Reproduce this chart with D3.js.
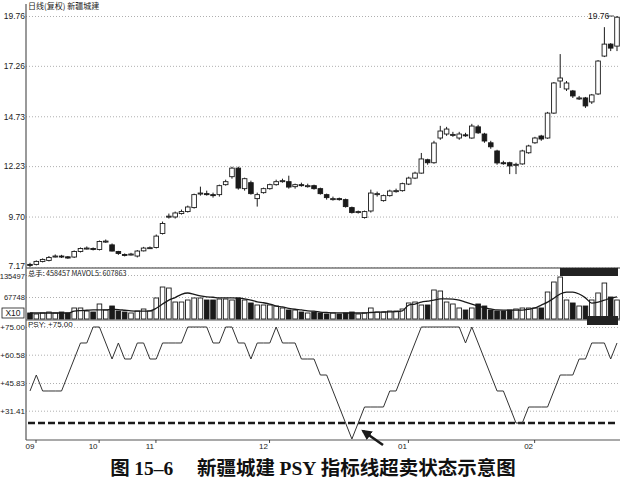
<!DOCTYPE html>
<html><head><meta charset="utf-8">
<script src="https://cdn.jsdelivr.net/npm/d3@7"></script>
<style>body{margin:0;background:#fff}svg{display:block}</style>
</head><body><svg id="c" width="620" height="483"></svg>
<script>
const opens  = [7.30,7.30,7.45,7.50,7.70,7.72,7.68,7.67,7.95,8.10,8.10,8.05,8.45,8.28,7.95,7.80,7.80,7.72,7.98,8.12,8.15,8.85,9.70,9.68,9.85,9.95,10.15,10.85,10.85,10.80,10.80,11.30,11.70,12.13,11.10,11.40,10.60,10.90,11.10,11.30,11.45,11.45,11.20,11.30,11.25,11.25,11.10,10.80,10.60,10.60,10.55,10.15,9.90,9.65,9.98,10.80,10.50,10.75,11.00,11.00,11.33,11.63,11.88,12.55,12.40,13.64,13.84,13.80,13.64,13.80,13.64,14.20,13.84,13.40,12.99,12.40,12.40,12.30,12.34,12.90,13.40,13.74,13.64,14.89,16.50,16.10,16.00,15.65,15.65,15.45,15.85,17.75,18.35,18.25];
const highs  = [7.38,7.50,7.60,7.72,7.80,7.78,7.72,8.00,8.15,8.20,8.15,8.50,8.55,8.35,7.98,7.85,7.88,8.02,8.18,8.20,8.80,9.45,9.85,9.95,10.05,10.25,10.85,11.20,11.00,10.90,11.30,11.55,12.20,12.20,11.65,11.50,10.90,11.15,11.35,11.55,11.60,11.75,11.35,11.40,11.35,11.30,11.15,10.85,10.70,10.65,10.60,10.20,10.00,10.00,11.05,10.95,10.80,11.05,11.10,11.40,11.70,11.95,12.89,12.60,13.50,14.25,14.20,13.95,13.95,13.90,14.35,14.30,13.90,13.50,13.05,12.50,12.45,12.40,13.05,13.30,13.70,13.80,14.95,16.45,17.85,16.50,16.05,15.75,15.70,15.85,17.55,19.20,18.40,19.76];
const lows   = [7.17,7.25,7.40,7.45,7.65,7.62,7.58,7.62,7.90,8.05,8.00,8.00,8.38,7.95,7.78,7.70,7.75,7.65,7.95,8.08,8.10,8.80,9.60,9.60,9.80,9.90,10.10,10.75,10.75,10.65,10.70,11.25,11.60,11.05,11.00,10.80,10.20,10.85,11.05,11.25,11.40,11.10,11.10,11.20,11.15,11.05,10.80,10.55,10.50,10.50,10.15,9.85,9.85,9.60,9.90,10.70,10.45,10.70,10.90,10.95,11.28,11.58,11.85,12.30,12.35,13.55,13.75,13.70,13.55,13.70,13.60,13.85,13.40,13.10,12.30,12.30,11.83,11.83,12.30,12.85,13.35,13.50,13.60,14.85,16.15,16.00,15.65,15.55,15.15,15.35,15.80,17.70,18.00,18.00];
const closes = [7.25,7.45,7.55,7.65,7.72,7.70,7.62,7.95,8.10,8.12,8.05,8.45,8.47,7.97,7.85,7.78,7.82,7.97,8.12,8.14,8.72,9.35,9.72,9.88,9.95,10.18,10.80,10.88,10.82,10.75,11.25,11.45,12.13,11.13,11.60,10.85,10.80,11.10,11.30,11.45,11.50,11.18,11.30,11.28,11.25,11.10,10.85,10.65,10.60,10.58,10.20,9.90,9.95,9.95,10.88,10.85,10.75,10.98,11.00,11.35,11.63,11.88,12.59,12.40,13.39,13.99,14.09,13.82,13.84,13.78,14.24,13.90,13.49,13.20,12.39,12.38,12.24,12.32,12.99,13.24,13.64,13.59,14.89,16.40,16.65,16.40,15.75,15.65,15.25,15.80,17.50,18.35,18.15,19.70];
const volumes = [18500,15400,18500,21500,18500,21500,18500,33900,33900,24600,21500,46200,27700,40000,24600,21500,18500,24600,30800,24600,64700,98500,95400,52300,52300,58500,64700,64700,58500,58500,61600,61600,58500,64700,58500,49300,43100,43100,43100,40000,33900,27700,27700,21500,18500,21500,18500,15400,18500,15400,18500,21500,15400,18500,33900,21500,21500,24600,24600,30800,49300,52300,43100,43100,89300,86200,52300,46200,33900,27700,33900,46200,40000,27700,24600,24600,27700,30800,33900,33900,33900,33900,83100,113900,129300,58500,49300,40000,40000,58500,80100,110800,67700,58500];
const mavol5 = [18500,18500,18500,18500,18500,18500,18500,24000,26000,27000,28000,28000,28000,30000,29000,27000,25000,24000,24000,25000,33000,46000,58000,66000,76000,80000,76000,71000,68000,67000,65000,65000,65000,64000,62000,58000,53000,50000,46000,40000,37000,33000,30000,28000,25000,24000,21000,20000,19000,19000,18500,18500,18500,18500,20000,21000,21500,22000,22500,25000,43000,46000,52000,55000,58000,62000,62000,61000,58000,52000,46000,40000,34000,31000,28000,27500,27500,27500,27500,30000,34000,43000,52000,64000,77000,83000,83000,77000,65000,49000,52000,58000,64000,68000];
const psy = [41.67,50,41.67,41.67,41.67,41.67,50,58.33,66.67,66.67,75,75,66.67,58.33,66.67,58.33,58.33,66.67,66.67,58.33,58.33,66.67,66.67,66.67,66.67,75,75,75,75,66.67,66.67,75,75,66.67,66.67,58.33,66.67,66.67,66.67,75,66.67,66.67,66.67,58.33,58.33,58.33,50,50,41.67,33.33,25,16.67,25,33.33,33.33,33.33,33.33,41.67,41.67,50,58.33,66.67,75,75,75,75,75,75,75,66.67,75,66.67,58.33,50,41.67,41.67,33.33,25,25,33.33,33.33,33.33,33.33,41.67,50,50,50,58.33,58.33,66.67,66.67,66.67,58.33,66.67];
const priceTicks = [7.17,9.70,12.23,14.73,17.26,19.76];
const volTicks = [67748,135497];
const psyTicks = [31.41,45.83,60.58,75.00];
const psyLevel = 25;
const monthTicks = [{i:0,label:"09"},{i:10,label:"10"},{i:19,label:"11"},{i:37,label:"12"},{i:59,label:"01"},{i:79,label:"02"}];
const priceTitle = "日线(复权) 新疆城建";
const volTitle = "总手: 458457  MAVOL5: 607863";
const psyTitle = "PSY: +75.00";
const maxLabel = "19.76";
const caption = ["图 ","15–6","　 新疆城建 ","PSY"," 指标线超卖状态示意图"];

const svg = d3.select("#c");
const L = 26, R = 618;
const N = closes.length;
const x = d3.scalePoint().domain(d3.range(N)).range([30, 617]);
const yP = d3.scaleLinear().domain([7.17, 19.76]).range([267, 16]);
const yV = d3.scaleLinear().domain([0, 135497]).range([319, 275]);
const yS = d3.scaleLinear().domain([16.67, 75]).range([439, 327]);
const font = "'Liberation Sans', Arial, sans-serif";
const ink = "#1a1a1a";

function yAxis(scale, ticks, fmt, fs, dy){
  const g = svg.append("g").attr("transform",`translate(${L},0)`)
    .call(d3.axisLeft(scale).tickValues(ticks).tickFormat(fmt).tickSize(0).tickPadding(1));
  g.select(".domain").remove();
  g.selectAll("text").attr("font-family",font).attr("font-size",fs).attr("fill",ink)
    .attr("transform",(d)=>`translate(0,${dy(d)})`);
  const gg = svg.append("g").attr("transform",`translate(${L},0)`)
    .call(d3.axisRight(scale).tickValues(ticks).tickFormat("").tickSize(R-L));
  gg.select(".domain").remove();
  gg.selectAll("line").attr("stroke","#9a9a9a").attr("stroke-width",0.8).attr("stroke-dasharray","1,2");
}
yAxis(yP, priceTicks, d3.format(".2f"), "8.5px", d=> d===7.17 ? -1.5 : 0);
yAxis(yV, volTicks, d=>String(d), "7.6px", d=> d===135497 ? 1.5 : 0);
yAxis(yS, psyTicks, d=>"+"+d3.format(".2f")(d), "8px", d=>0);

// panel frames
svg.append("line").attr("x1",L).attr("x2",L).attr("y1",4).attr("y2",440).attr("stroke","#555").attr("stroke-width",1.2);
svg.append("line").attr("x1",L).attr("x2",R+2).attr("y1",268).attr("y2",268).attr("stroke","#777").attr("stroke-width",1.5);
svg.append("line").attr("x1",L).attr("x2",R+2).attr("y1",320).attr("y2",320).attr("stroke","#555").attr("stroke-width",1.2);
svg.append("line").attr("x1",L).attr("x2",R+2).attr("y1",440).attr("y2",440).attr("stroke","#555").attr("stroke-width",1.2);

// titles
svg.append("text").attr("x",28).attr("y",9).text(priceTitle).attr("font-family","'Noto Sans CJK SC',sans-serif").attr("font-size","8px").attr("fill",ink);
svg.append("text").attr("x",28).attr("y",276).text(volTitle).attr("font-family","'Noto Sans CJK SC',sans-serif").attr("font-size","7.2px").attr("fill",ink);
svg.append("text").attr("x",28).attr("y",327).text(psyTitle).attr("font-family",font).attr("font-size","8px").attr("fill",ink);

// X10 box
svg.append("rect").attr("x",2).attr("y",308).attr("width",22).attr("height",10).attr("fill","none").attr("stroke",ink).attr("stroke-width",0.8);
svg.append("text").attr("x",13).attr("y",316).attr("text-anchor","middle").text("X10").attr("font-family",font).attr("font-size","8.5px").attr("fill",ink);

// candles
const bw = 4.6;
const cg = svg.append("g");
d3.range(N).forEach(i=>{
  const cx = x(i), up = closes[i] >= opens[i];
  cg.append("line").attr("x1",cx).attr("x2",cx).attr("y1",yP(highs[i])).attr("y2",yP(lows[i])).attr("stroke",ink).attr("stroke-width",1);
  const top = yP(Math.max(opens[i],closes[i])), bot = yP(Math.min(opens[i],closes[i]));
  cg.append("rect").attr("x",cx-bw/2).attr("y",top).attr("width",bw).attr("height",Math.max(1,bot-top))
    .attr("fill",up?"#fff":ink).attr("stroke",ink).attr("stroke-width",0.9);
});
// max label
svg.append("text").attr("x",588).attr("y",19).text(maxLabel).attr("font-family",font).attr("font-size","8.5px").attr("fill",ink);
svg.append("line").attr("x1",607).attr("x2",614).attr("y1",16).attr("y2",yP(19.76)).attr("stroke",ink).attr("stroke-width",0.8);

// volume bars
const vg = svg.append("g");
d3.range(N).forEach(i=>{
  const up = closes[i] >= opens[i];
  vg.append("rect").attr("x",x(i)-bw/2).attr("y",yV(volumes[i])).attr("width",bw).attr("height",yV(0)-yV(volumes[i]))
    .attr("fill",up?"#fff":ink).attr("stroke",ink).attr("stroke-width",0.9);
});
svg.append("path").datum(mavol5).attr("fill","none").attr("stroke",ink).attr("stroke-width",1.3)
  .attr("d",d3.line().x((d,i)=>x(i)).y(d=>yV(d)).curve(d3.curveMonotoneX));
// software info boxes
svg.append("rect").attr("x",560).attr("y",268).attr("width",58).attr("height",8).attr("fill","#222");
svg.append("rect").attr("x",587).attr("y",316).attr("width",31).attr("height",9).attr("fill","#222");

// PSY
svg.append("line").attr("x1",L+2).attr("x2",R).attr("y1",yS(psyLevel)).attr("y2",yS(psyLevel))
  .attr("stroke",ink).attr("stroke-width",2.6).attr("stroke-dasharray","7,3");
svg.append("path").datum(psy).attr("fill","none").attr("stroke","#333").attr("stroke-width",1)
  .attr("d",d3.line().x((d,i)=>x(i)).y(d=>yS(d)));

// arrow
const defs = svg.append("defs");
defs.append("marker").attr("id","ah").attr("viewBox","0 0 10 10").attr("refX",8).attr("refY",5)
  .attr("markerWidth",4).attr("markerHeight",4).attr("orient","auto")
  .append("path").attr("d","M0,0L10,5L0,10z").attr("fill",ink);
svg.append("line").attr("x1",383).attr("y1",445).attr("x2",363).attr("y2",431)
  .attr("stroke",ink).attr("stroke-width",2.6).attr("marker-end","url(#ah)");

// month axis
const mg = svg.append("g");
monthTicks.forEach(t=>{
  const tx = x(t.i);
  mg.append("text").attr("x",tx).attr("y",449).attr("text-anchor","middle").text(t.label)
    .attr("font-family",font).attr("font-size","8px").attr("fill",ink);
  mg.append("line").attr("x1",tx+6).attr("x2",tx+6).attr("y1",440).attr("y2",443).attr("stroke",ink).attr("stroke-width",0.8);
});

// caption
const cap = svg.append("text").attr("x",313).attr("y",475).attr("text-anchor","middle")
  .attr("font-size","19.5px").attr("font-weight","bold").attr("fill","#111");
caption.forEach((s,k)=>{
  cap.append("tspan").text(s).attr("font-family", (k===1||k===3) ? "'Liberation Serif',serif" : "'Noto Sans CJK SC',sans-serif");
});
</script></body></html>
